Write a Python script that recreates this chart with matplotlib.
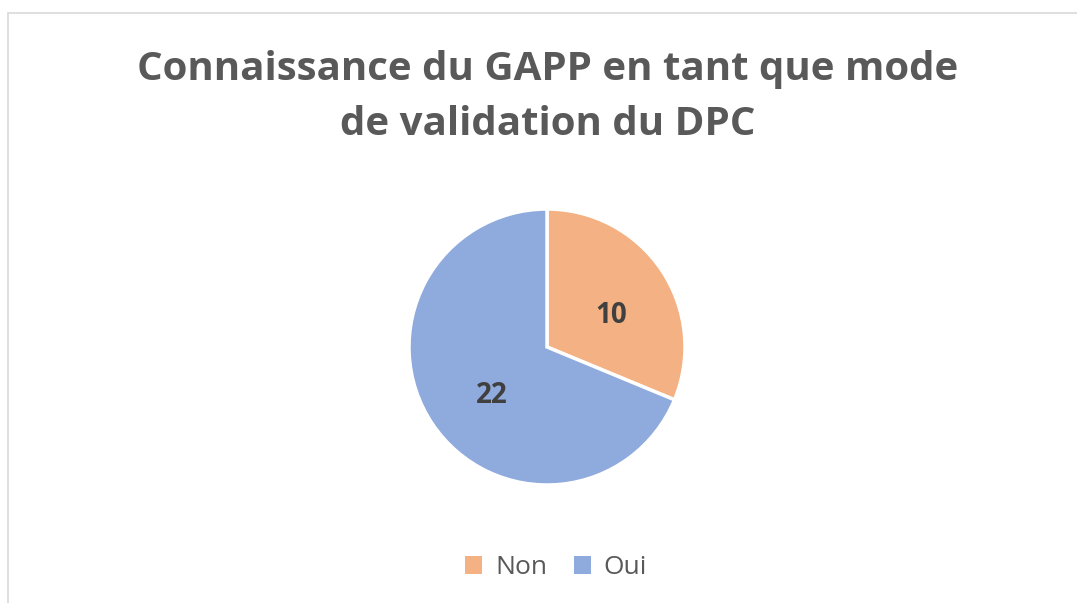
import matplotlib.pyplot as plt
from matplotlib.patches import Rectangle, Patch

# Data
categories = ['Non', 'Oui']
values = [10, 22]
colors = ['#F4B183', '#8FAADC']
title = 'Connaissance du GAPP en tant que mode\nde validation du DPC'

W, H = 1077, 603
fig = plt.figure(figsize=(W / 100, H / 100), dpi=100)
fig.patch.set_facecolor('white')

# Light chart frame (only top and left visible in the reference)
fig.patches.append(Rectangle((7.5 / W, -0.1), 1.2, 1 - 12.5 / H + 0.1,
                             transform=fig.transFigure, fill=False,
                             edgecolor='#D9D9D9', linewidth=1.2))

# Pie axes: center (547, 347), radius 138 px
cx, cy, r = 547, 347, 138
ax = fig.add_axes([(cx - r) / W, (H - cy - r) / H, 2 * r / W, 2 * r / H])
total = sum(values)
wedges, texts, autotexts = ax.pie(
    values, colors=colors, startangle=90, counterclock=False,
    autopct=lambda p: f'{round(p * total / 100)}', pctdistance=0.52,
    wedgeprops=dict(edgecolor='white', linewidth=2.5),
    textprops=dict(fontsize=20, fontweight='bold', color='#404040',
                   family='Open Sans'))
# nudge the value labels a bit lower, like the reference
for t in autotexts:
    x, y = t.get_position()
    t.set_position((x + 0.03, y - 0.06))
ax.set_xlim(-1, 1)
ax.set_ylim(-1, 1)
ax.set_aspect('equal')
ax.axis('off')

fig.text(548 / W, 1 - 97 / H, title, ha='center', va='center',
         fontsize=29, fontweight='bold', color='#595959',
         family='Open Sans', linespacing=1.52)

handles = [Patch(facecolor=c, edgecolor='none') for c in colors]
fig.legend(handles, categories, loc='center', bbox_to_anchor=(556 / W, 1 - 568 / H),
           ncol=2, frameon=False, handlelength=0.65, handleheight=0.65,
           handletextpad=0.5, columnspacing=1.0,
           prop=dict(family='Open Sans', size=19), labelcolor='#595959')

fig.savefig('out.png', dpi=100, facecolor='white')
